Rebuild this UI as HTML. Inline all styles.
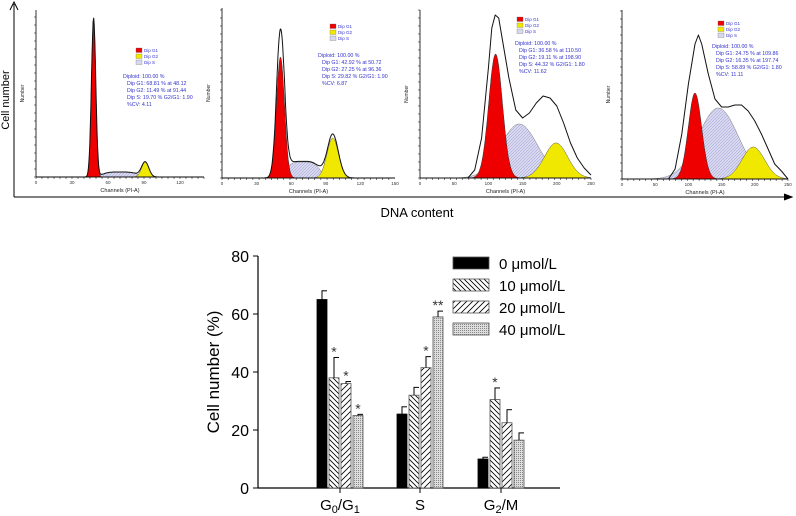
<!DOCTYPE html>
<html><head><meta charset="utf-8">
<style>
html,body{margin:0;padding:0;background:#fff;}
svg{display:block;font-family:"Liberation Sans",Arial,sans-serif;}
</style></head>
<body>
<svg id="fig" width="796" height="516" viewBox="0 0 796 516">
<defs>
<pattern id="pBack" width="5" height="5" patternUnits="userSpaceOnUse"><rect width="5" height="5" fill="#fff"/><path d="M0,0 L5,5 M-1,4 L1,6 M4,-1 L6,1" stroke="#000" stroke-width="0.8"/></pattern>
<pattern id="pFwd" width="6" height="6" patternUnits="userSpaceOnUse"><rect width="6" height="6" fill="#fff"/><path d="M0,6 L6,0 M-1,1 L1,-1 M5,7 L7,5" stroke="#000" stroke-width="0.8"/></pattern>
<pattern id="pDot" width="2" height="2" patternUnits="userSpaceOnUse"><rect width="2" height="2" fill="#ddd"/><rect width="1" height="1" fill="#888"/></pattern>
<pattern id="pS" width="3" height="3" patternUnits="userSpaceOnUse"><rect width="3" height="3" fill="#d8d8f0"/><path d="M0,3 L3,0" stroke="#9a9ad0" stroke-width="0.5"/></pattern>
</defs>
<g id="topPanels"></g>
<g id="bars"></g>
</svg>
<script>
// ---- bar chart data ----
const categories = ["G0/G1","S","G2/M"];
const seriesLabels = ["0 μmol/L","10 μmol/L","20 μmol/L","40 μmol/L"];
const v0  = [65, 25.5, 10];
const v10 = [38, 32, 30.5];
const v20 = [36, 41.5, 22.5];
const v40 = [25, 59, 16.5];
const e0  = [3, 2.5, 0.6];
const e10 = [7, 2.7, 4];
const e20 = [0.7, 3.8, 4.5];
const e40 = [0.4, 2, 2.5];
const stars0 = ["","",""];
const stars10 = ["*","","*"];
const stars20 = ["*","*",""];
const stars40 = ["*","**",""];
const yTicks = [0,20,40,60,80];

// ---- histogram component params [center channel, height(px), sd channel] ----
const g1Params = [[48,159,1.8],[50.7,121,3.5],[110.5,124,10],[109.9,86,10]];
const g2Params = [[91,15,3],[96,40,5],[198.9,35,17],[197.7,32,17]];
const sParams  = [[70,5,14],[70,16,14],[145,54,27],[145,71,30]];
const sFlat    = [true,true,false,false];
const envPeak  = [159,149,0,0];
// observed envelopes for panels 3 & 4 [channel, height px]
const env3 = [[70,0],[80,8],[90,40],[100,110],[105,150],[110,163],[115,160],[120,140],[130,100],[140,68],[150,60],[160,65],[170,75],[180,82],[190,80],[200,72],[210,55],[220,35],[230,20],[240,10],[250,3]];
const env4 = [[70,0],[80,10],[90,45],[100,95],[110,135],[115,144],[120,135],[130,105],[140,80],[150,72],[160,72],[170,74],[180,74],[190,68],[200,58],[210,45],[220,30],[230,15],[240,8],[250,0]];
const envObs = [null,null,env3,env4];
const statText = [
 ["Diploid: 100.00 %","Dip G1: 68.81 % at 48.12","Dip G2: 11.49 % at 91.44","Dip S: 19.70 %   G2/G1: 1.90","%CV: 4.11"],
 ["Diploid: 100.00 %","Dip G1: 42.92 % at 50.72","Dip G2: 27.25 % at 96.36","Dip S: 29.82 %   G2/G1: 1.90","%CV: 6.87"],
 ["Diploid: 100.00 %","Dip G1: 36.58 % at 110.50","Dip G2: 19.11 % at 198.90","Dip S: 44.32 %   G2/G1: 1.80","%CV: 11.62"],
 ["Diploid: 100.00 %","Dip G1: 24.75 % at 109.86","Dip G2: 16.35 % at 197.74","Dip S: 58.89 %   G2/G1: 1.80","%CV: 11.11"]];

const NS="http://www.w3.org/2000/svg";
function mk(parent,tag,attrs,text){const e=document.createElementNS(NS,tag);for(const k in attrs)e.setAttribute(k,attrs[k]);if(text!==undefined)e.textContent=text;parent.appendChild(e);return e;}

// ===== top panels =====
const topG=document.getElementById('topPanels');
const panels=[
 {x0:36,xEnd:204,maxCh:140,ticks:[0,30,60,90,120],base:177,top:10,tx:123,ty:78,lx:136,ly:48},
 {x0:222,xEnd:395,maxCh:150,ticks:[0,30,60,90,120,150],base:178,top:8,tx:318,ty:57,lx:330,ly:24},
 {x0:420,xEnd:591,maxCh:250,ticks:[0,50,100,150,200,250],base:178,top:10,tx:515,ty:45,lx:517,ly:17},
 {x0:622,xEnd:788,maxCh:250,ticks:[0,50,100,150,200,250],base:179,top:10,tx:712,ty:48,lx:718,ly:21}];
function gauss(c,p){return p[1]*Math.exp(-0.5*Math.pow((c-p[0])/p[2],2));}
function sPlat(c,p){return p[1]*Math.exp(-0.5*Math.pow((c-p[0])/p[2],4));}
panels.forEach((P,i)=>{
  const g=mk(topG,'g',{});
  
  
  const sx=(P.xEnd-P.x0)/P.maxCh;
  const X=c=>P.x0+c*sx;
  const Y=h=>P.base-h;
  const sFn=sFlat[i]?sPlat:gauss;
  const comp=(fn,p)=>{let d=`M${X(0)},${P.base}`;for(let c=0;c<=P.maxCh;c+=P.maxCh/300){d+=` L${X(c).toFixed(1)},${Y(fn(c,p)).toFixed(1)}`;}return d+` L${X(P.maxCh)},${P.base} Z`;};
  const sp=mk(g,'path',{d:comp(sFn,sParams[i]),fill:'url(#pS)',stroke:'#777','stroke-width':0.5});
  
  const g2=mk(g,'path',{d:comp(gauss,g2Params[i]),fill:'#f0e800',stroke:'#555','stroke-width':0.5});
  
  const g1=mk(g,'path',{d:comp(gauss,g1Params[i]),fill:'#ee0000',stroke:'#333','stroke-width':0.5});
  
  let d='';
  if(envObs[i]){
    envObs[i].forEach((pt,k)=>{d+=(k?' L':'M')+X(pt[0]).toFixed(1)+','+Y(pt[1]).toFixed(1);});
  } else {
    const sum=c=>gauss(c,g1Params[i])+gauss(c,g2Params[i])+sFn(c,sParams[i]);
    let mx=0;for(let c=0;c<=P.maxCh;c+=0.5)mx=Math.max(mx,sum(c));
    const f=envPeak[i]/mx;
    for(let c=0;c<=P.maxCh;c+=P.maxCh/300){const h=sum(c);const k=1+(f-1)*Math.min(1,h/mx*1.5);d+=(d?' L':'M')+X(c).toFixed(1)+','+Y(h*k).toFixed(1);}
  }
  const env=mk(g,'path',{d:d,fill:'none',stroke:'#111','stroke-width':1,'stroke-linejoin':'round'});
  
  mk(g,'line',{x1:P.x0,y1:P.base,x2:P.xEnd,y2:P.base,stroke:'#000','stroke-width':0.8});
  mk(g,'line',{x1:P.x0,y1:P.base,x2:P.x0,y2:P.top,stroke:'#000','stroke-width':0.8});
  for(let c=0;c<=P.maxCh;c+=P.maxCh/28){mk(g,'line',{x1:X(c),y1:P.base,x2:X(c),y2:P.base+2,stroke:'#000','stroke-width':0.5});}
  for(let y=P.base;y>=P.top;y-=8){mk(g,'line',{x1:P.x0-2,y1:y,x2:P.x0,y2:y,stroke:'#000','stroke-width':0.5});}
  P.ticks.forEach(t=>{mk(g,'text',{x:X(t),y:P.base+7,'font-size':4.5,'text-anchor':'middle',fill:'#333'},String(t));});
  const xl=mk(g,'text',{x:(P.x0+P.xEnd)/2,y:P.base+15,'font-size':5.5,'text-anchor':'middle',fill:'#222'},'Channels (PI-A)');
  
  mk(g,'text',{x:0,y:0,'font-size':5,'text-anchor':'middle',fill:'#222',transform:`translate(${P.x0-12},${(P.base+P.top)/2}) rotate(-90)`},'Number');
  const names=['Dip G1','Dip G2','Dip S'],cols=['#ee0000','#f0e800','#d8d8f0'];
  names.forEach((n,j)=>{mk(g,'rect',{x:P.lx,y:P.ly+j*6,width:6,height:4.5,fill:cols[j],stroke:'#666','stroke-width':0.3});
    mk(g,'text',{x:P.lx+8,y:P.ly+j*6+4.2,'font-size':4.5,fill:'#3333cc'},n);});
  statText[i].forEach((s,j)=>{mk(g,'text',{x:P.tx+(j>0?4:0),y:P.ty+j*7,'font-size':5.3,fill:'#3333cc'},s);});
});
mk(topG,'line',{x1:14,y1:197,x2:14,y2:4,stroke:'#000','stroke-width':1});
mk(topG,'path',{d:'M10,10 L14,2 L18,10',fill:'none',stroke:'#000','stroke-width':1});
mk(topG,'line',{x1:14,y1:197,x2:790,y2:197,stroke:'#000','stroke-width':1});
mk(topG,'path',{d:'M784,194 L792,197 L784,200',fill:'#000',stroke:'#000','stroke-width':1});
const cn=mk(topG,'text',{x:0,y:0,'font-size':11,'text-anchor':'middle',transform:'translate(9,100) rotate(-90)'},'Cell number');

const dc=mk(topG,'text',{x:417,y:217,'font-size':13,'text-anchor':'middle'},'DNA  content');


// ===== bar chart =====
const B=document.getElementById('bars');
const axX=258, base=488, pxPer=58/20;
const yScale=v=>base-v*pxPer;
const groupStart=[317,397,478];
const barW=10, barStep=12;
const xBar=(gi,si)=>groupStart[gi]+si*barStep;
const values=[v0,v10,v20,v40], errs=[e0,e10,e20,e40], stars=[stars0,stars10,stars20,stars40];
const fills=['#000','url(#pBack)','url(#pFwd)','url(#pDot)'];
mk(B,'line',{x1:axX,y1:base,x2:560,y2:base,stroke:'#000','stroke-width':1.2});
mk(B,'line',{x1:axX,y1:base,x2:axX,y2:yScale(80),stroke:'#000','stroke-width':1.2});
yTicks.forEach(t=>{mk(B,'line',{x1:axX-5,y1:yScale(t),x2:axX,y2:yScale(t),stroke:'#000','stroke-width':1});
  const tl=mk(B,'text',{x:axX-9,y:yScale(t)+6,'font-size':16,'text-anchor':'end'},String(t));
  });
const yt=mk(B,'text',{x:0,y:0,'font-size':17,'text-anchor':'middle',transform:`translate(219,${yScale(40)}) rotate(-90)`},'Cell number (%)');

categories.forEach((c,gi)=>{
  const cx=groupStart[gi]+(3*barStep+barW)/2;
  mk(B,'line',{x1:cx,y1:base,x2:cx,y2:base+5,stroke:'#000','stroke-width':1});
  const t=mk(B,'text',{x:cx,y:510,'font-size':15,'text-anchor':'middle'});
  
  const add=(s,dy,fs)=>{mk(t,'tspan',{'font-size':fs,dy:dy},s);};
  if(c==='S'){t.textContent='S';}
  else if(c==='G0/G1'){add('G',0,15);add('0',3,11);add('/G',-3,15);add('1',3,11);}
  else{add('G',0,15);add('2',3,11);add('/M',-3,15);}
  values.forEach((arr,si)=>{
    const x=xBar(gi,si), y=yScale(arr[gi]);
    const r=mk(B,'rect',{x:x,y:y,width:barW,height:base-y,fill:fills[si],stroke:si?'#555':'#000','stroke-width':0.8});
    
    
    const ey=yScale(arr[gi]+errs[si][gi]), mx=x+barW/2;
    mk(B,'line',{x1:mx,y1:y,x2:mx,y2:ey,stroke:'#000','stroke-width':1});
    mk(B,'line',{x1:mx-0.5,y1:ey,x2:x+barW,y2:ey,stroke:'#000','stroke-width':1});
    if(stars[si][gi]){const s=mk(B,'text',{x:mx,y:ey-1,'font-size':14,'text-anchor':'middle',fill:'#333'},stars[si][gi]);
      }
  });
});
seriesLabels.forEach((l,si)=>{
  const y=257+si*22;
  const r=mk(B,'rect',{x:453,y:y,width:36,height:12,fill:fills[si],stroke:'#555','stroke-width':0.8});
  
  const t=mk(B,'text',{x:499,y:y+12,'font-size':15},l);
  
});
</script>
</body></html>
